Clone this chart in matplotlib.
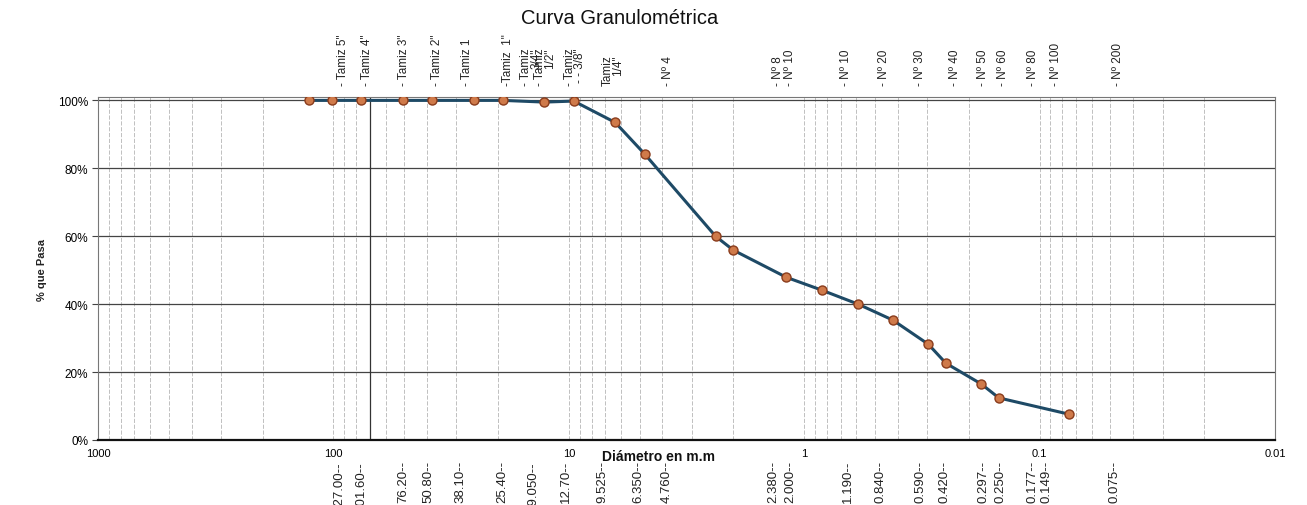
import matplotlib
matplotlib.use("Agg")
import matplotlib.pyplot as plt
from matplotlib.ticker import FixedLocator, NullFormatter, LogLocator

# ---------------- data ----------------
diametros_mm = [127.0, 101.6, 76.2, 50.8, 38.1, 25.4, 19.05, 12.7, 9.525,
                6.35, 4.76, 2.38, 2.0, 1.19, 0.84, 0.59, 0.42, 0.297,
                0.25, 0.177, 0.149, 0.075]
pct_pasa = [100.0, 100.0, 100.0, 100.0, 100.0, 100.0, 100.0, 99.5, 99.8,
            93.5, 84.2, 60.0, 55.9, 47.9, 44.1, 40.0, 35.3, 28.2,
            22.6, 16.5, 12.4, 7.6]

tamiz_labels = ['- Tamiz 5"', '- Tamiz 4"', '- Tamiz 3"', '- Tamiz 2"',
                '- Tamiz 1', '-Tamiz  1"', '- Tamiz\n3/4"', '- Tamiz\n1/2"',
                '- Tamiz\n- - 3/8"', 'Tamiz\n1/4"', '- Nº 4', '- Nº 8',
                '- Nº 10', '- Nº 10', '- Nº 20', '- Nº 30', '- Nº 40',
                '- Nº 50', '- Nº 60', '- Nº 80', '- Nº 100', '- Nº 200']
diam_labels = ['127.00--', '101.60--', '76.20--', '50.80--', '38.10--',
               '25.40--', '19.050--', '12.70--', '9.525--', '6.350--',
               '4.760--', '2.380--', '2.000--', '1.190--', '0.840--',
               '0.590--', '0.420--', '0.297--', '0.250--', '0.177--',
               '0.149--', '0.075--']
xtick_vals = [1000, 100, 10, 1, 0.1, 0.01]
xtick_labels = ['1000', '100', '10', '1', '0.1', '0.01']
ytick_vals = [0, 20, 40, 60, 80, 100]
ytick_labels = ['0%', '20%', '40%', '60%', '80%', '100%']

# ---------------- layout (pixel positions of annotation texts) ----------------
W, H = 1307, 506
tamiz_px = [343, 367, 404, 437, 467, 508, 531, 545, 575, 613, 668, 778,
            790, 846, 884, 920, 955, 983, 1003, 1033, 1056, 1118]
diam_px = [339, 361, 403, 428, 460, 502, 533, 566, 602, 638, 667, 773,
           790, 848, 881, 921, 944, 984, 1000, 1033, 1047, 1114]

plt.rcParams['font.family'] = ['Liberation Sans', 'DejaVu Sans']

fig = plt.figure(figsize=(W / 100, H / 100), dpi=100)
fig.patch.set_facecolor('white')
ax = fig.add_axes([98 / W, 1 - 441 / H, (1275 - 98) / W, (441 - 98) / H])

ax.set_xscale('log')
ax.set_xlim(1000, 0.01)
ax.set_ylim(0, 101)

# grid
ax.xaxis.set_major_locator(FixedLocator(xtick_vals))
ax.xaxis.set_minor_locator(LogLocator(base=10, subs=range(2, 10), numticks=50))
ax.xaxis.set_minor_formatter(NullFormatter())
ax.set_xticks(xtick_vals)
ax.set_xticklabels(xtick_labels, fontsize=8)
ax.set_yticks(ytick_vals)
ax.set_yticklabels(ytick_labels, fontsize=8.5)
ax.tick_params(axis='x', which='both', length=0, pad=6)
ax.tick_params(axis='y', which='both', length=4, pad=3, color='#444444')

ax.grid(True, which='major', axis='y', color='#444444', linewidth=0.9)
ax.grid(True, which='both', axis='x', color='#b5b5b5', linewidth=0.6,
        linestyle=(0, (5, 2)))
ax.axvline(70, color='#333333', linewidth=0.9, zorder=1)
ax.set_axisbelow(True)

for side in ['left', 'top', 'right']:
    ax.spines[side].set_color('#777777')
    ax.spines[side].set_linewidth(0.8)
ax.spines['bottom'].set_color('#111111')
ax.spines['bottom'].set_linewidth(1.6)

# curve
ax.plot(diametros_mm, pct_pasa, color='#1e4a66', linewidth=2.2, zorder=3,
        marker='o', markersize=6.5, markerfacecolor='#cf7a4a',
        markeredgecolor='#8a3c1c', markeredgewidth=1.0)

# titles
fig.text(620 / W, 1 - 19 / H, 'Curva Granulométrica', ha='center', va='center',
         fontsize=14.5, color='#111111')
fig.text(42 / W, 1 - 270 / H, '% que Pasa', ha='center', va='center',
         rotation=90, fontsize=8, fontweight='bold', color='#222222')
fig.text(658 / W, 1 - 457 / H, 'Diámetro en m.m', ha='center', va='center',
         fontsize=10, fontweight='bold', color='#111111')

# sieve names above
for lab, px in zip(tamiz_labels, tamiz_px):
    fig.text(px / W, 1 - 86 / H, lab, rotation=90, ha='center', va='bottom',
             multialignment='right', fontsize=8.5, color='#222222',
             linespacing=0.85)

# sieve diameters below
for lab, px in zip(diam_labels, diam_px):
    fig.text(px / W, 1 - 461 / H, lab, rotation=90, ha='center', va='top',
             fontsize=9.5, color='#222222')

fig.savefig('out.png', dpi=100, facecolor='white')
